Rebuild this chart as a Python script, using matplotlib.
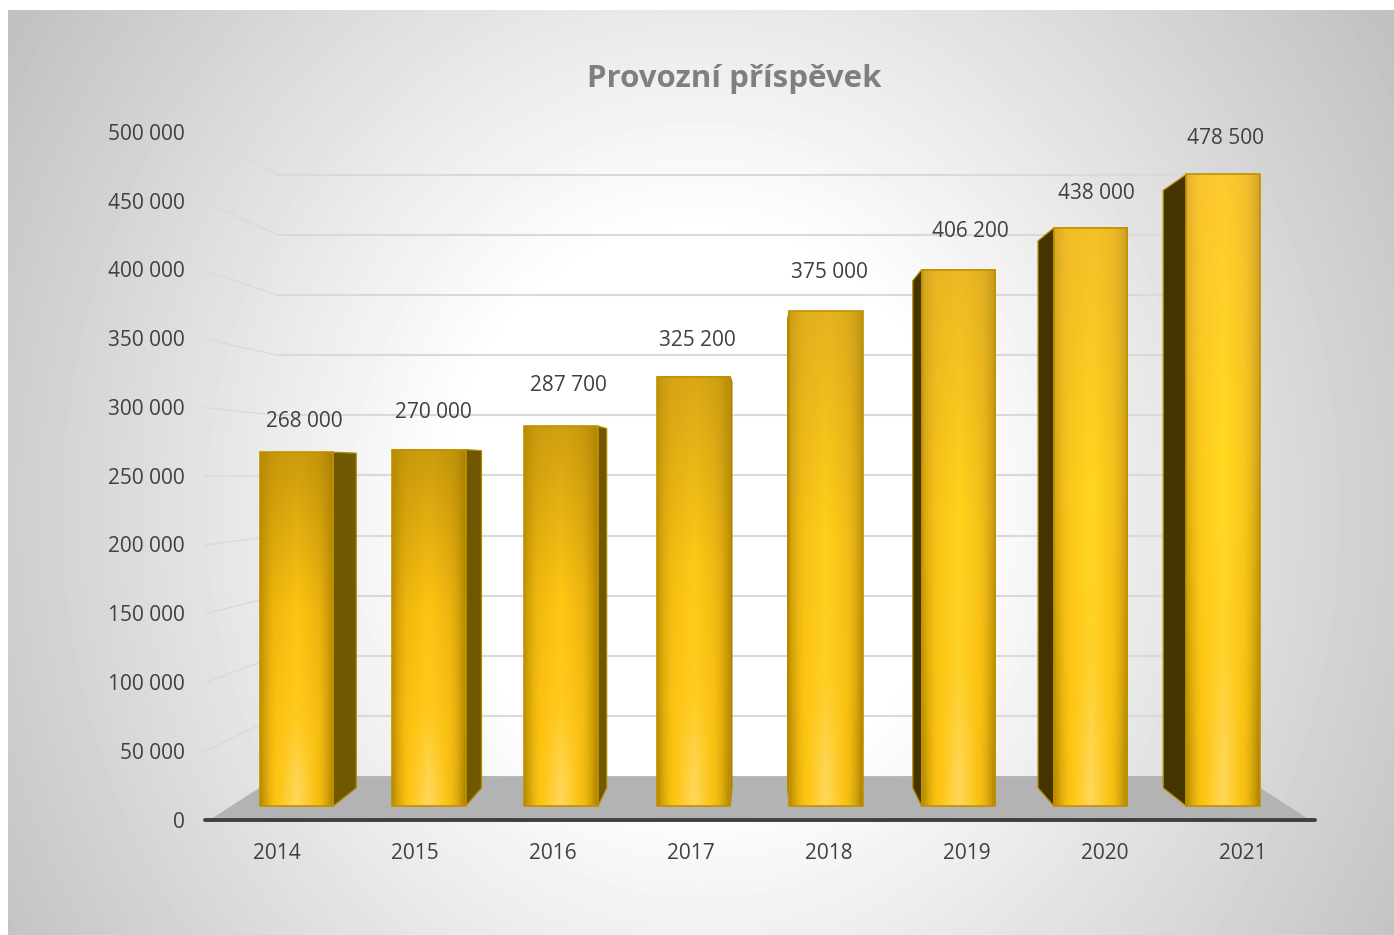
# Provozni prispevek - 3D look column chart
import numpy as np
import matplotlib
matplotlib.use('Agg')
import matplotlib.pyplot as plt
from matplotlib.colors import to_rgb
from matplotlib.patches import Polygon, Rectangle

# Data
years = ['2014', '2015', '2016', '2017', '2018', '2019', '2020', '2021']
values = [268000, 270000, 287700, 325200, 375000, 406200, 438000, 478500]
value_labels = ['268 000', '270 000', '287 700', '325 200',
                '375 000', '406 200', '438 000', '478 500']
axis_ticks = [0, 50000, 100000, 150000, 200000, 250000,
              300000, 350000, 400000, 450000, 500000]
axis_tick_labels = ['0', '50 000', '100 000', '150 000', '200 000', '250 000',
                    '300 000', '350 000', '400 000', '450 000', '500 000']

# Label offsets from the bar top, in pixels
label_dx = [7.5, 5, 7, 3.5, 3, 12.5, 5.5, 2.5]
label_dy = [31, 37, 41, 36, 38, 38, 34, 36]

# Perspective: everything scales around a vanishing point
VP_X = 3.5
VP_V = 254500
S_AXIS = 1.0417   # plane of the value axis / category axis
S_BAR = 0.946     # rear of the bars
S_WALL = 0.911    # back wall
BAR_W = 0.555
TEXT = '#404040'
GRID = '#d9d9d9'

plt.rcParams['font.family'] = ['Open Sans', 'DejaVu Sans']


def project(x, v, s):
    return VP_X + (x - VP_X) * s, VP_V + (v - VP_V) * s


def mix(a, b, k):
    a = np.array(to_rgb(a))
    b = np.array(to_rgb(b))
    return a + (b - a) * k


def bar_shade(value, ny=200, nx=60):
    # Cylinder style shading, taller bars are brighter at the top
    k = np.clip((value / max(values) - 0.56) / 0.44, 0, 1)
    stops_t = [0.0, 0.08, 0.25, 0.55, 1.0]
    center = [to_rgb('#ffd85e'), to_rgb('#ffd654'), mix('#ffca1e', '#ffd42e', k),
              mix('#ffc412', '#ffdb20', k), mix('#cc9c0e', '#ffca30', k)]
    quart = [to_rgb('#ffc514'), to_rgb('#ffc514'), mix('#fdc212', '#ffc916', k),
             mix('#f2b90f', '#ffcc1e', k), mix('#c8980c', '#fcc62e', k)]
    edge = [to_rgb('#b48800'), to_rgb('#b98c00'), mix('#c09000', '#c89a00', k),
            mix('#c09000', '#dca818', k), mix('#b48800', '#deb030', k)]
    t = np.linspace(1, 0, ny)
    u = np.linspace(0, 1, nx)
    d = np.abs(2 * u - 1)
    img = np.zeros((ny, nx, 3))
    for c in range(3):
        cc = np.interp(t, stops_t, [p[c] for p in center])
        qq = np.interp(t, stops_t, [p[c] for p in quart])
        ee = np.interp(t, stops_t, [p[c] for p in edge])
        w1 = np.clip(d / 0.5, 0, 1)
        w2 = np.clip((d - 0.5) / 0.5, 0, 1) ** 1.8
        for row in range(ny):
            part = cc[row] + (qq[row] - cc[row]) * w1
            img[row, :, c] = part + (ee[row] - part) * w2
    # right hand side a bit darker
    img *= (1 - 0.06 * np.clip((u - 0.5) * 2, 0, 1) ** 2)[None, :, None]
    return np.clip(img, 0, 1)


fig = plt.figure(figsize=(13.94, 9.35), dpi=100, facecolor='white')
ax = fig.add_axes([0, 0, 1, 1])
ax.axis('off')

# Radial background
yy, xx = np.mgrid[10:935:4, 8:1394:4]
dist = np.hypot(xx - 700, (yy - 510) * 0.9)
bg = np.clip(255 - 0.11 * (dist - 250), 0, 255) / 255
ax.imshow(bg, cmap='gray', vmin=0, vmax=1, aspect='auto', zorder=0,
          extent=(8 / 1394, 1, 0, 1 - 10 / 935), transform=ax.transAxes,
          interpolation='bilinear')

# Floor
floor = [project(VP_X - 3.99, 0, S_AXIS), project(VP_X + 3.99, 0, S_AXIS),
         project(VP_X + 4.0, 0, S_WALL), project(VP_X - 4.0, 0, S_WALL)]
ax.add_patch(Polygon(floor, closed=True, facecolor='#b3b3b3', edgecolor='none', zorder=1))

# Gridlines on the back wall and on the left wall
for tick in axis_ticks:
    x0, y0 = project(VP_X - 4.025, tick, S_AXIS)
    x1, y1 = project(VP_X - 4.0, tick, S_WALL)
    x2, y2 = project(VP_X + 4.0, tick, S_WALL)
    if tick > 0:
        ax.plot([x1, x2], [y1, y2], color=GRID, lw=1.5, zorder=2, solid_capstyle='butt')
        ax.plot([x0, x1], [y0, y1], color=GRID, lw=0.9, zorder=2)
    ax.annotate(axis_tick_labels[axis_ticks.index(tick)], (x0, y0), xytext=(-20, -2),
                textcoords='offset pixels', ha='right', va='center',
                fontsize=15, color=TEXT, zorder=6)

# Category axis
xa0, ya0 = project(VP_X - 4.025, 0, S_AXIS)
xa1, ya1 = project(VP_X + 4.025, 0, S_AXIS)
ax.plot([xa0, xa1], [ya0, ya1], color=TEXT, lw=2.8, solid_capstyle='round', zorder=5)
for i, year in enumerate(years):
    xt, yt = project(i, 0, S_AXIS)
    ax.annotate(year, (xt, yt), xytext=(0, -33), textcoords='offset pixels',
                ha='center', va='center', fontsize=15, color=TEXT, zorder=6)

# Bars
for i, value in enumerate(values):
    left = i - BAR_W / 2
    right = i + BAR_W / 2
    # side face, on the side turned to the vanishing point
    side_x = right if right < VP_X else left
    side_col = '#705800' if right < VP_X else '#453300'
    side = [(side_x, 0), (side_x, value), project(side_x, value, S_BAR), project(side_x, 0, S_BAR)]
    ax.add_patch(Polygon(side, closed=True, facecolor=side_col, edgecolor='#b08a00',
                         lw=0.9, zorder=3))
    ax.imshow(bar_shade(value), extent=(left, right, 0, value), aspect='auto',
              zorder=4, interpolation='bilinear')
    ax.add_patch(Rectangle((left, 0), BAR_W, value, fill=False, edgecolor='#bf9200',
                           lw=1.2, zorder=4.5))
    ax.annotate(value_labels[i], (i, value), xytext=(label_dx[i], label_dy[i]),
                textcoords='offset pixels', ha='center', va='center',
                fontsize=15, color=TEXT, zorder=6)

ax.text(734 / 1394, 1 - 79 / 935, 'Provozní příspěvek', transform=ax.transAxes,
        ha='center', va='center', fontsize=22.5, fontweight='bold', color='#7f7f7f', zorder=6)

# Fit the figure: 132.36 px per category, 1.32 px per 1000 of value
ax.set_xlim(-296.5 / 132.36, (1394 - 296.5) / 132.36)
ax.set_ylim((806 - 935) / 1.32 * 1000, 806 / 1.32 * 1000)

fig.savefig('out.png', dpi=100)
